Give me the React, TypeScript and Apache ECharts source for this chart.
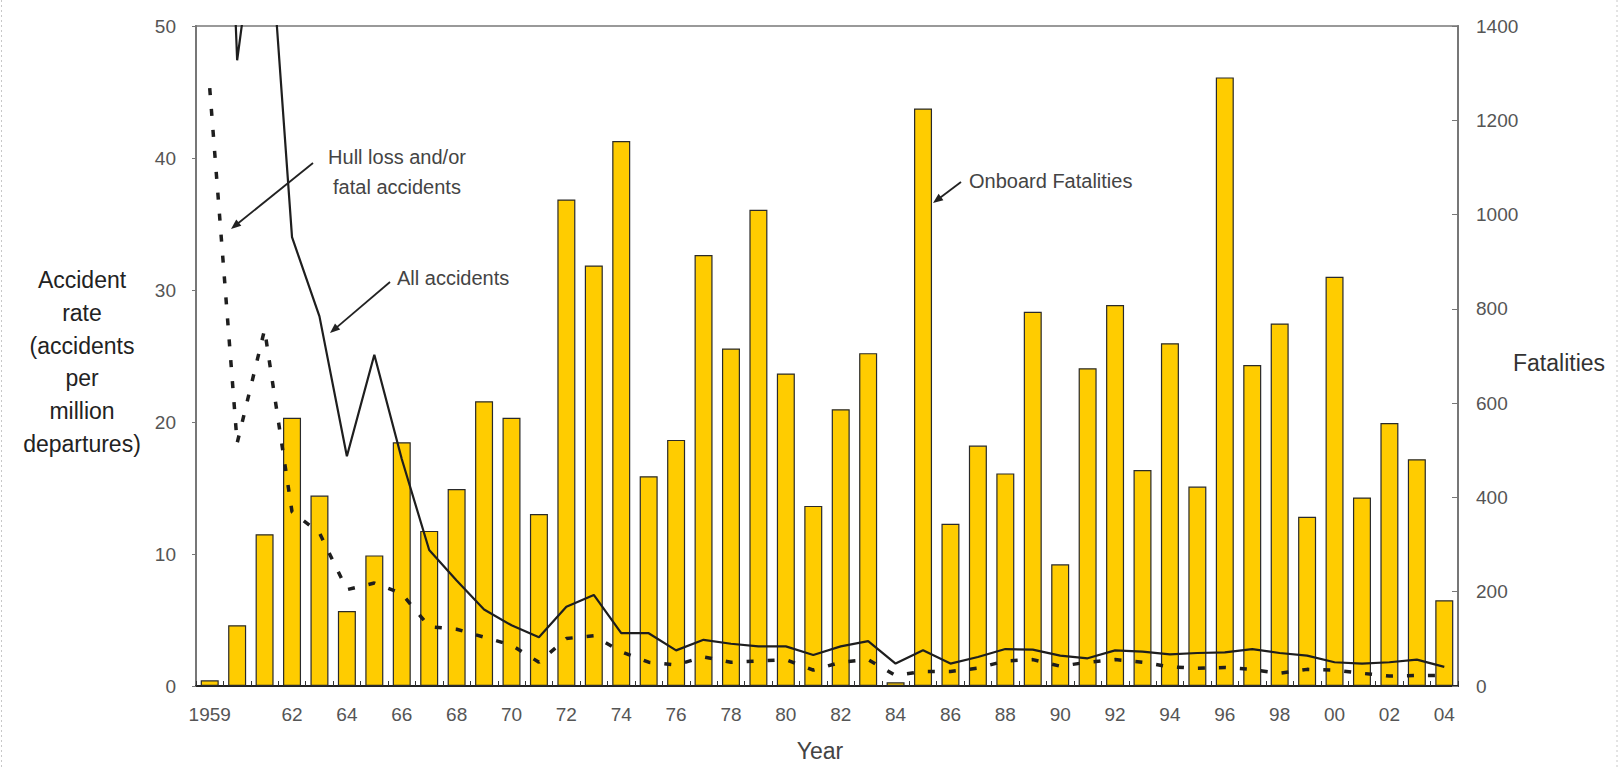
import React, { useEffect, useRef } from "react";
import * as echarts from "echarts";

const years = [
  "1959", "1960", "1961", "1962", "1963", "1964", "1965", "1966", "1967", "1968",
  "1969", "1970", "1971", "1972", "1973", "1974", "1975", "1976", "1977", "1978",
  "1979", "1980", "1981", "1982", "1983", "1984", "1985", "1986", "1987", "1988",
  "1989", "1990", "1991", "1992", "1993", "1994", "1995", "1996", "1997", "1998",
  "1999", "2000", "2001", "2002", "2003", "2004",
];

const xTickLabels = [
  "1959", "", "", "62", "", "64", "", "66", "", "68",
  "", "70", "", "72", "", "74", "", "76", "", "78",
  "", "80", "", "82", "", "84", "", "86", "", "88",
  "", "90", "", "92", "", "94", "", "96", "", "98",
  "", "00", "", "02", "", "04",
];

// Onboard fatalities (right axis)
const fatalities = [
  12, 129, 322, 569, 404, 159, 277, 517, 329, 418,
  604, 569, 365, 1032, 892, 1156, 445, 522, 914, 716,
  1010, 663, 382, 587, 706, 8, 1225, 344, 510, 451,
  794, 258, 674, 808, 458, 727, 423, 1291, 681, 769,
  359, 868, 400, 558, 481, 182,
];

// All accidents rate (left axis)
const allAccidents = [
  100, 47.4, 63, 34, 28, 17.4, 25.1, 17.2, 10.3, 8.0,
  5.8, 4.6, 3.7, 6.0, 6.9, 4.0, 4.0, 2.7, 3.5, 3.2,
  3.0, 3.0, 2.35, 3.0, 3.4, 1.7, 2.7, 1.7, 2.2, 2.8,
  2.75, 2.3, 2.1, 2.7, 2.6, 2.4, 2.5, 2.55, 2.8, 2.5,
  2.3, 1.8, 1.7, 1.8, 2.0, 1.45,
];

// Hull loss and/or fatal accidents rate (left axis)
const hullLossFatal = [
  45.3, 18.4, 27.0, 13.2, 11.6, 7.3, 7.8, 7.0, 4.5, 4.3,
  3.7, 3.1, 1.8, 3.6, 3.8, 2.6, 1.8, 1.6, 2.2, 1.8,
  1.9, 2.0, 1.2, 1.8, 2.0, 0.8, 1.1, 1.1, 1.35, 1.9,
  2.0, 1.5, 1.8, 2.0, 1.8, 1.45, 1.34, 1.4, 1.25, 0.96,
  1.26, 1.2, 0.96, 0.76, 0.8, 0.8,
];

const FONT = "'Liberation Sans', Arial, sans-serif";

function arrow(x0: number, y0: number, x1: number, y1: number) {
  const dx = x1 - x0;
  const dy = y1 - y0;
  const len = Math.sqrt(dx * dx + dy * dy);
  const ux = dx / len;
  const uy = dy / len;
  const hl = 10;
  const hw = 4;
  const bx = x1 - ux * hl;
  const by = y1 - uy * hl;
  const px = -uy;
  const py = ux;
  return [
    {
      type: "line",
      z: 100,
      shape: { x1: x0, y1: y0, x2: bx + ux * 2, y2: by + uy * 2 },
      style: { stroke: "#222", lineWidth: 1.8 },
    },
    {
      type: "polygon",
      z: 100,
      shape: {
        points: [
          [x1, y1],
          [bx + px * hw, by + py * hw],
          [bx - px * hw, by - py * hw],
        ],
      },
      style: { fill: "#222" },
    },
  ];
}

export default function App() {
  const ref = useRef<HTMLDivElement>(null);

  useEffect(() => {
    if (!ref.current) return;
    const chart = echarts.init(ref.current, undefined, { renderer: "svg" });
    const labelStyle = { fontSize: 19, color: "#555", fontFamily: FONT };
    chart.setOption({
      animation: false,
      backgroundColor: "#ffffff",
      textStyle: { fontFamily: FONT },
      grid: {
        left: 196,
        right: 161,
        top: 26,
        bottom: 81,
        show: true,
        borderColor: "#999",
        borderWidth: 2,
      },
      xAxis: {
        type: "category",
        data: years,
        boundaryGap: true,
        axisLine: { show: true, lineStyle: { color: "#222", width: 2 } },
        axisTick: {
          show: true,
          inside: true,
          length: 5,
          interval: 0,
          lineStyle: { color: "#333", width: 1 },
        },
        axisLabel: {
          ...labelStyle,
          interval: 0,
          margin: 19,
          formatter: (_v: string, i: number) => xTickLabels[i],
        },
        splitLine: { show: false },
      },
      yAxis: [
        {
          type: "value",
          position: "left",
          min: 0,
          max: 50,
          interval: 10,
          axisLine: { show: true, lineStyle: { color: "#777", width: 2 } },
          axisTick: { show: true, length: 4, lineStyle: { color: "#777" } },
          axisLabel: { ...labelStyle, margin: 20, formatter: (v: number) => String(v) },
          splitLine: { show: false },
        },
        {
          type: "value",
          position: "right",
          min: 0,
          max: 1400,
          interval: 200,
          axisLine: { show: true, lineStyle: { color: "#777", width: 2 } },
          axisTick: { show: true, inside: true, length: 6, lineStyle: { color: "#777" } },
          axisLabel: { ...labelStyle, margin: 18, formatter: (v: number) => String(v) },
          splitLine: { show: false },
        },
      ],
      series: [
        {
          name: "Onboard Fatalities",
          type: "bar",
          yAxisIndex: 1,
          data: fatalities,
          barWidth: 18,
          itemStyle: { color: "#FFCC00", borderColor: "#2a2a2a", borderWidth: 1.2 },
          z: 2,
        },
        {
          name: "All accidents",
          type: "line",
          yAxisIndex: 0,
          data: allAccidents,
          symbol: "none",
          clip: true,
          lineStyle: { color: "#1e1e1e", width: 2.2 },
          z: 5,
        },
        {
          name: "Hull loss and/or fatal accidents",
          type: "line",
          yAxisIndex: 0,
          data: hullLossFatal,
          symbol: "none",
          clip: true,
          lineStyle: { color: "#1e1e1e", width: 3.5, type: [7, 14], cap: "butt" },
          z: 6,
        },
      ],
      graphic: [
        {
          type: "text",
          z: 100,
          style: {
            text: "Accident\nrate\n(accidents\nper\nmillion\ndepartures)",
            x: 82,
            y: 362,
            textAlign: "center",
            textVerticalAlign: "middle",
            lineHeight: 32.7,
            fontSize: 23,
            fontFamily: FONT,
            fill: "#222",
          },
        },
        {
          type: "text",
          z: 100,
          style: {
            text: "Fatalities",
            x: 1513,
            y: 363,
            textAlign: "left",
            textVerticalAlign: "middle",
            fontSize: 23,
            fontFamily: FONT,
            fill: "#333",
          },
        },
        {
          type: "text",
          z: 100,
          style: {
            text: "Year",
            x: 820,
            y: 751,
            textAlign: "center",
            textVerticalAlign: "middle",
            fontSize: 23,
            fontFamily: FONT,
            fill: "#444",
          },
        },
        {
          type: "text",
          z: 100,
          style: {
            text: "Hull loss and/or\nfatal accidents",
            x: 397,
            y: 172,
            textAlign: "center",
            textVerticalAlign: "middle",
            lineHeight: 30,
            fontSize: 20,
            fontFamily: FONT,
            fill: "#444",
          },
        },
        {
          type: "text",
          z: 100,
          style: {
            text: "All accidents",
            x: 397,
            y: 278,
            textAlign: "left",
            textVerticalAlign: "middle",
            fontSize: 20,
            fontFamily: FONT,
            fill: "#444",
          },
        },
        {
          type: "text",
          z: 100,
          style: {
            text: "Onboard Fatalities",
            x: 969,
            y: 181,
            textAlign: "left",
            textVerticalAlign: "middle",
            fontSize: 20,
            fontFamily: FONT,
            fill: "#444",
          },
        },
        ...arrow(313, 163, 231, 229),
        ...arrow(390, 282, 330, 333),
        ...arrow(961, 182, 933, 203),
        {
          type: "line",
          z: 100,
          shape: { x1: 1.5, y1: 0, x2: 1.5, y2: 767 },
          style: { stroke: "#c8c8c8", lineWidth: 1, lineDash: [2, 3] },
        },
        {
          type: "line",
          z: 100,
          shape: { x1: 1617, y1: 0, x2: 1617, y2: 767 },
          style: { stroke: "#c8c8c8", lineWidth: 1, lineDash: [2, 3] },
        },
      ],
    });
    return () => chart.dispose();
  }, []);

  return (
    <div
      ref={ref}
      style={{ position: "fixed", left: 0, top: 0, width: 1619, height: 767, background: "#fff" }}
    />
  );
}
